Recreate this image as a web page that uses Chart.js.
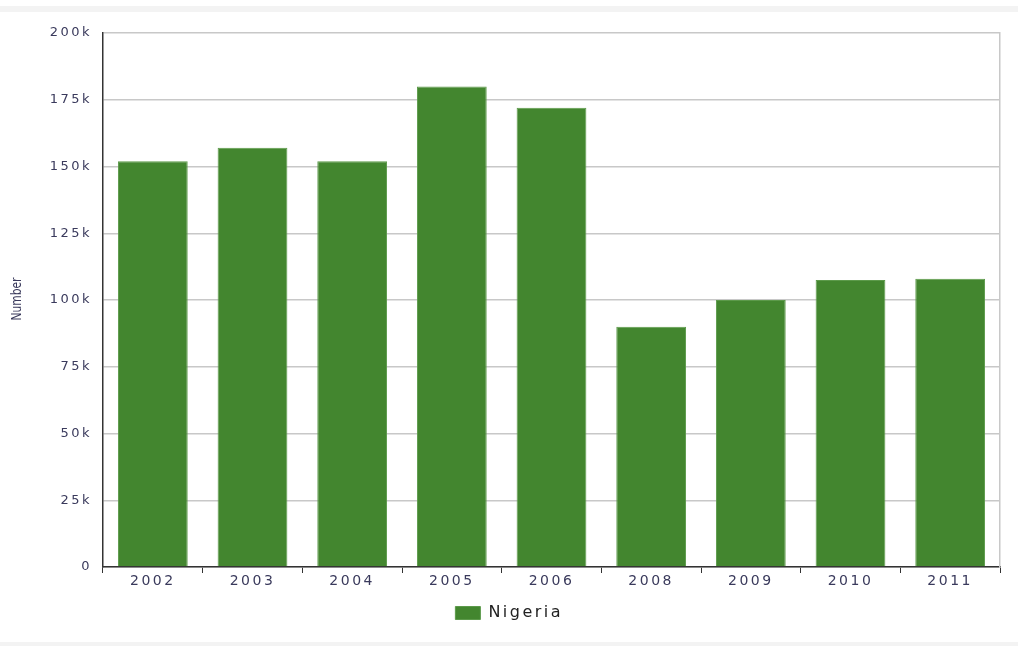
<!DOCTYPE html>
<html>
<head>
<meta charset="utf-8">
<script src="https://cdn.jsdelivr.net/npm/chart.js@4.4.1/dist/chart.umd.min.js"></script>
<style>
  html, body { margin: 0; padding: 0; background: #fff; }
  #wrap { position: relative; width: 1028px; height: 646px; }
  .band { position: absolute; left: 0; width: 1018px; background: #f3f3f3; }
  canvas { position: absolute; left: 0; top: 0; }
</style>
</head>
<body>
<div id="wrap">
  <div class="band" style="top:6px;height:6px"></div>
  <div class="band" style="top:642px;height:4px"></div>
  <canvas id="chart" width="1028" height="646"></canvas>
</div>
<script>
const years = ['2002', '2003', '2004', '2005', '2006', '2008', '2009', '2010', '2011'];
const nigeria = [152000, 157000, 152000, 180000, 172000, 90000, 100000, 107500, 108000];
const yTicks = [0, 25000, 50000, 75000, 100000, 125000, 150000, 175000, 200000];

const textColor = '#3a3a5c';

// the reference text is wide; add a little letter spacing to what the chart draws
const spacing = {
    id: 'spacing',
    beforeDraw(chart) {
        chart.ctx.letterSpacing = '2.5px';
    },
    afterDraw(chart) {
        const ctx = chart.ctx;
        ctx.save();
        ctx.letterSpacing = '0px';
        ctx.fillStyle = textColor;
        ctx.font = '14px "Liberation Sans Narrow", "DejaVu Sans Condensed", sans-serif';
        ctx.translate(17, 299);
        ctx.rotate(-Math.PI / 2);
        ctx.scale(0.85, 1);
        ctx.textAlign = 'center';
        ctx.textBaseline = 'middle';
        ctx.fillText('Number', 0, 0);
        ctx.restore();
    }
};

new Chart(document.getElementById('chart'), {
    type: 'bar',
    data: {
        labels: years,
        datasets: [
            {
                label: 'Nigeria',
                data: nigeria,
                backgroundColor: '#43862f',
                borderColor: '#5c9a4a',
                borderWidth: 1,
                barPercentage: 0.7,
                categoryPercentage: 1
            }
        ]
    },
    options: {
        responsive: false,
        animation: false,
        layout: { padding: { top: 33, right: 27, bottom: 15, left: 0 } },
        plugins: {
            tooltip: { enabled: false },
            legend: {
                position: 'bottom',
                labels: {
                    color: '#222',
                    font: { family: 'DejaVu Sans', size: 16 },
                    boxWidth: 25,
                    boxHeight: 13,
                    padding: 10
                }
            }
        },
        scales: {
            x: {
                afterFit: s => { s.height = 28; },
                grid: { offset: true, drawOnChartArea: false, tickLength: 6, color: '#333', lineWidth: 1 },
                border: { color: '#333', width: 1.5 },
                ticks: { color: textColor, font: { family: 'DejaVu Sans', size: 14 }, padding: 0 }
            },
            y: {
                min: 0,
                max: 200000,
                afterFit: s => { s.width = 103; },
                afterBuildTicks: s => { s.ticks = yTicks.map(v => ({ value: v })); },
                grid: { color: '#c8c8c8', lineWidth: 1.5, drawTicks: false },
                border: { color: '#333', width: 1.5 },
                ticks: {
                    color: textColor,
                    font: { family: 'DejaVu Sans', size: 13 },
                    padding: 11,
                    callback: v => v === 0 ? '0' : (v / 1000) + 'k'
                }
            },
            y2: {
                position: 'right',
                min: 0,
                max: 200000,
                afterFit: s => { s.width = 1; },
                grid: { display: false },
                border: { color: '#c8c8c8', width: 1.5 },
                ticks: { display: false }
            }
        }
    },
    plugins: [spacing]
});
</script>
</body>
</html>
